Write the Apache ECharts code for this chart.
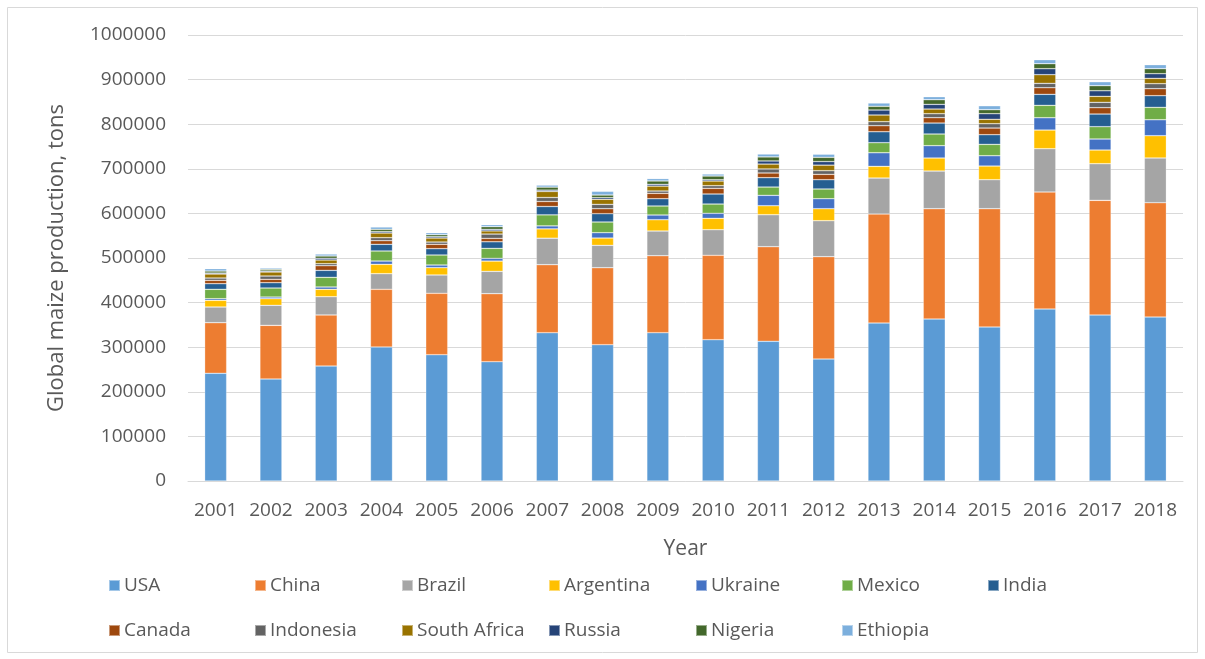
<!DOCTYPE html>
<html>
<head>
<meta charset="utf-8">
<script src="https://cdn.jsdelivr.net/npm/echarts@6/dist/echarts.min.js"></script>
<style>
  html, body { margin: 0; padding: 0; background: #fff; }
  #main { width: 1205px; height: 659px; }
</style>
</head>
<body>
<div id="main"></div>
<script>
    // data (thousand tons)
    var years = ['2001','2002','2003','2004','2005','2006','2007','2008','2009','2010','2011','2012','2013','2014','2015','2016','2017','2018'];
    var usa = [241500, 228700, 257800, 300400, 283200, 267500, 332500, 305600, 332500, 316800, 313200, 273500, 354200, 363200, 345300, 385600, 372200, 367700];
    var china = [113400, 120300, 114400, 129400, 137600, 152500, 152500, 172600, 172600, 189200, 212100, 229400, 244400, 247300, 265200, 262300, 257100, 256300];
    var brazil = [35200, 44900, 41000, 35000, 41100, 50000, 59400, 50200, 55400, 57400, 71700, 80700, 80700, 84500, 65000, 97100, 82100, 100200];
    var argentina = [15000, 14900, 16600, 21000, 16400, 23100, 20900, 16400, 25300, 25600, 20200, 26900, 26200, 29200, 30700, 41900, 30700, 50000];
    var ukraine = [3600, 3700, 5200, 7400, 6000, 6100, 6700, 11900, 10600, 11200, 23300, 22400, 30500, 27600, 23100, 27600, 24700, 35800];
    var mexico = [21100, 20200, 21700, 22500, 22400, 22400, 24700, 24000, 20200, 20800, 18600, 21800, 22500, 26200, 25500, 27800, 27600, 27800];
    var india = [12600, 11900, 15600, 15000, 14200, 14800, 18800, 18600, 16300, 22500, 21000, 20800, 24600, 24600, 21600, 24700, 28400, 26100];
    var canada = [7500, 7600, 10400, 8100, 9800, 7600, 11200, 11200, 12100, 12700, 10500, 12100, 13500, 12000, 15000, 14800, 14200, 15700];
    var indonesia = [5200, 7400, 4500, 6700, 5100, 9700, 9000, 9800, 5200, 5900, 9000, 8100, 9000, 8900, 9700, 9800, 12000, 11200];
    var southAfrica = [9000, 9000, 8300, 10500, 9000, 7000, 13500, 11300, 11000, 10500, 11000, 12500, 15000, 10500, 9900, 19400, 13500, 12000];
    var russia = [2200, 2200, 3800, 3000, 2900, 3500, 3000, 3600, 4000, 2900, 7000, 8000, 11200, 10500, 12500, 13400, 12500, 10400];
    var nigeria = [4500, 3800, 5200, 5300, 4500, 6000, 6700, 6000, 7500, 8300, 9000, 9500, 8300, 10400, 9000, 11200, 11300, 11200];
    var ethiopia = [5200, 2900, 4400, 5200, 4500, 4500, 4500, 8300, 5300, 4500, 6500, 7000, 7400, 6700, 8900, 9000, 8900, 9000];

    var names = ['USA','China','Brazil','Argentina','Ukraine','Mexico','India','Canada','Indonesia','South Africa','Russia','Nigeria','Ethiopia'];
    var values = [usa, china, brazil, argentina, ukraine, mexico, india, canada, indonesia, southAfrica, russia, nigeria, ethiopia];
    var colors = ['#5B9BD5','#ED7D31','#A5A5A5','#FFC000','#4472C4','#70AD47','#255E91','#9E480E','#636363','#997300','#264478','#43682B','#7CAFDD'];

    var font = '"Open Sans", "Noto Sans", sans-serif';
    var txt = '#595959';

    //legend: one block per item so the columns line up like the original
    var legendCols = [108, 254, 401, 548, 695, 841, 987];
    var legends = [];
    names.forEach(function (n, i) {
        var row = i < 7 ? 0 : 1;
        var col = i < 7 ? i : i - 7;
        legends.push({
            left: legendCols[col],
            top: row === 0 ? 576 : 621,
            padding: 0,
            itemWidth: 11,
            itemHeight: 11,
            itemGap: 6,
            icon: 'rect',
            selectedMode: false,
            data: [n],
            textStyle: { color: txt, fontSize: 19, fontFamily: font, padding: [0, 0, 0, -1] }
        });
    });

    var series = names.map(function (n, i) {
        return {
            name: n,
            type: 'bar',
            stack: 'total',
            barWidth: 22,
            data: values[i],
            itemStyle: { color: colors[i], borderColor: 'rgba(255,255,255,0.45)', borderWidth: 0.6 }
        };
    });

    var chart = echarts.init(document.getElementById('main'));
    chart.setOption({
        animation: false,
        color: colors,
        graphic: [{
            type: 'rect',
            shape: { x: 7.5, y: 7.5, width: 1190, height: 645 },
            style: { fill: 'none', stroke: '#d9d9d9', lineWidth: 1 },
            silent: true
        }],
        legend: legends,
        grid: { left: 188, right: 22, top: 35, bottom: 178 },
        xAxis: {
            type: 'category',
            data: years,
            name: 'Year',
            nameLocation: 'middle',
            nameGap: 58,
            nameTextStyle: { color: txt, fontSize: 21, fontFamily: font },
            axisLine: { lineStyle: { color: '#d9d9d9', width: 1 } },
            axisTick: { show: false },
            axisLabel: { color: txt, fontSize: 19, fontFamily: font, margin: 20, interval: 0 }
        },
        yAxis: {
            type: 'value',
            min: 0,
            max: 1000000,
            interval: 100000,
            name: 'Global maize production, tons',
            nameLocation: 'middle',
            nameGap: 120,
            nameTextStyle: { color: txt, fontSize: 22, fontFamily: font },
            axisLine: { show: false },
            axisTick: { show: false },
            axisLabel: {
                color: txt, fontSize: 19, fontFamily: font, margin: 22,
                formatter: function (v) { return String(v); }
            },
            splitLine: { lineStyle: { color: '#d9d9d9', width: 1 } }
        },
        series: series
    });
</script>
</body>
</html>
